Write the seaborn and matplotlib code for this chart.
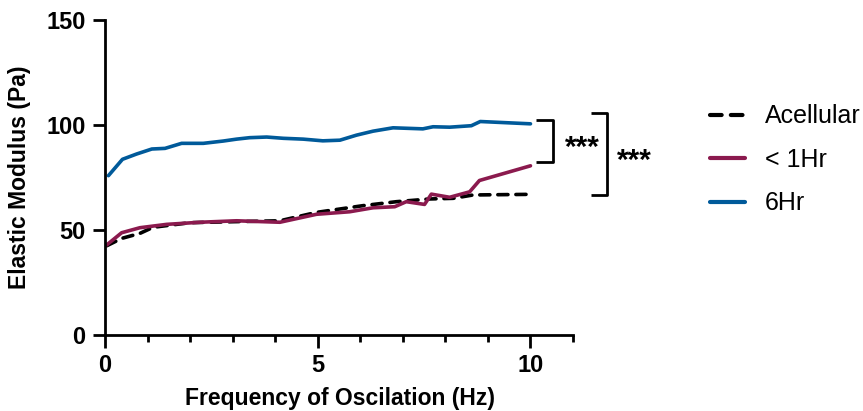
import matplotlib
matplotlib.use("Agg")
import matplotlib.pyplot as plt
import numpy as np
import pandas as pd
import seaborn as sns

# values
acell_x = [0.04, 0.39, 0.82, 1.13, 2.0, 3.09, 4.11, 4.97, 6.06, 6.85, 7.63, 8.18, 8.65, 10.0]
acell_y = [42.5, 46.0, 48.4, 51.3, 53.5, 54.0, 54.4, 58.4, 61.6, 63.5, 64.8, 65.1, 66.7, 67.0]

lt1_x = [0.04, 0.39, 0.82, 1.45, 2.23, 3.09, 4.11, 4.97, 5.75, 6.30, 6.81, 7.08, 7.51, 7.67,
         8.10, 8.57, 8.80, 10.0]
lt1_y = [42.9, 48.7, 51.1, 52.7, 53.7, 54.4, 53.7, 57.5, 58.7, 60.6, 61.1, 63.5, 62.2, 67.1,
         65.6, 68.2, 73.6, 80.6]

hr6_x = [0.08, 0.41, 0.74, 1.10, 1.41, 1.80, 2.31, 2.78, 3.09, 3.40, 3.80, 4.19, 4.66, 5.12,
         5.52, 5.91, 6.30, 6.77, 7.47, 7.71, 8.10, 8.61, 8.82, 10.0]
hr6_y = [75.9, 83.7, 86.2, 88.6, 88.9, 91.3, 91.3, 92.4, 93.3, 94.0, 94.3, 93.7, 93.3, 92.5,
         92.8, 95.2, 97.1, 98.7, 98.2, 99.2, 99.0, 99.7, 101.7, 100.6]

labels = ["Acellular", "< 1Hr", "6Hr"]
colors = ["black", "#8B1A4E", "#005A9A"]

sns.set_theme(style="ticks")
plt.rcParams["font.family"] = ["Liberation Sans", "DejaVu Sans"]
for k in ["text.color", "axes.labelcolor", "xtick.color", "ytick.color"]:
    plt.rcParams[k] = "black"

fig = plt.figure(figsize=(8.63, 4.11), dpi=100)
ax = fig.add_axes([0.1217, 0.185, 0.5423, 0.766])

series = [(acell_x, acell_y), (lt1_x, lt1_y), (hr6_x, hr6_y)]
for (xs, ys), lab, col in zip(series, labels, colors):
    df = pd.DataFrame({"x": xs, "y": ys})
    ls = (0, (2.8, 2.2)) if lab == "Acellular" else "-"
    sns.lineplot(data=df, x="x", y="y", ax=ax, color=col, lw=2.6, label=lab,
                 linestyle=ls, solid_capstyle="round", dash_capstyle="round")

ax.set_xlim(0, 11)
ax.set_ylim(0, 150)
ax.set_xticks([0, 5, 10])
ax.set_xticks(range(0, 12), minor=True)
ax.set_yticks([0, 50, 100, 150])
for s in ["top", "right"]:
    ax.spines[s].set_visible(False)
for s in ["left", "bottom"]:
    ax.spines[s].set_linewidth(2)
    ax.spines[s].set_color("black")
ax.tick_params(which="major", width=2, length=9, labelsize=16, pad=5)
ax.tick_params(axis="x", which="minor", width=2, length=5)
for t in ax.get_xticklabels() + ax.get_yticklabels():
    t.set_fontweight("bold")
    t.set_fontsize(17)
ax.set_xlabel("Frequency of Oscilation (Hz)", fontsize=16.5, fontweight="bold", va="top")
ax.set_ylabel("Elastic Modulus (Pa)", fontsize=16.5, fontweight="bold")
ax.xaxis.set_label_coords(0.502, -0.165)
ax.yaxis.set_label_coords(-0.158, 0.50)

# significance brackets
kw = dict(color="black", lw=2, clip_on=False, solid_capstyle="butt")
ax.plot([10.13, 10.52, 10.52, 10.13], [102.4, 102.4, 82.5, 82.5], **kw)
ax.plot([11.42, 11.81, 11.81, 11.42], [105.6, 105.6, 66.7, 66.7], **kw)
ax.text(11.21, 85.5, "***", fontsize=21.5, fontweight="bold", ha="center", va="baseline")
ax.text(12.45, 79.2, "***", fontsize=21.5, fontweight="bold", ha="center", va="baseline")

leg = ax.legend(loc="center left", bbox_to_anchor=(1.271, 0.556), frameon=False,
                borderaxespad=0, fontsize=18, handlelength=1.4, handletextpad=0.8,
                labelspacing=0.78)
for h in leg.get_lines():
    h.set_linewidth(3)

fig.savefig("out.png", dpi=100)
